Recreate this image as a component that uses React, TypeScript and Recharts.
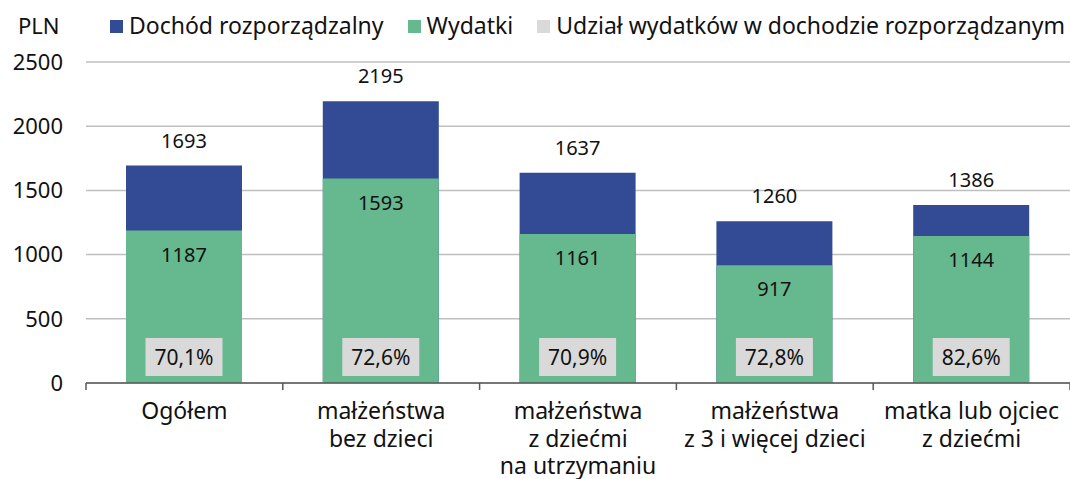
import React from "react";
import { BarChart, Bar, XAxis, YAxis, CartesianGrid, LabelList } from "recharts";

const categories = [
  "Ogółem",
  "małżeństwa\nbez dzieci",
  "małżeństwa\nz dziećmi\nna utrzymaniu",
  "małżeństwa\nz 3 i więcej dzieci",
  "matka lub ojciec\nz dziećmi",
];
const dochod = [1693, 2195, 1637, 1260, 1386];
const wydatki = [1187, 1593, 1161, 917, 1144];
const udzial = [70.1, 72.6, 70.9, 72.8, 82.6];
const yTicks = [0, 500, 1000, 1500, 2000, 2500];

const data = categories.map((name, i) => ({
  name,
  dochod: dochod[i],
  wydatki: wydatki[i],
  udzial: udzial[i],
}));

const FONT = "'Noto Sans', sans-serif";
const BLUE = "#334a94";
const GREEN = "#66b88f";
const GRAY = "#d9d9d9";
const AXIS = "#595959";

const CatTick = (props: any) => {
  const { x, y, payload, index } = props;
  const half = Number(payload?.offset) || 0;
  const lines = String(payload.value).split("\n");
  const isLast = index === categories.length - 1;
  return (
    <g transform={`translate(${x},${y})`}>
      <line x1={-half} x2={-half} y1={0} y2={7} stroke={AXIS} strokeWidth={1.5} />
      {isLast && (
        <line x1={half} x2={half} y1={0} y2={7} stroke={AXIS} strokeWidth={1.5} />
      )}
      <text textAnchor="middle" fontSize={23} fill="#111" fontFamily={FONT}>
        {lines.map((l, i) => (
          <tspan key={i} x={0} dy={i === 0 ? 36 : 27.5}>
            {l}
          </tspan>
        ))}
      </text>
    </g>
  );
};

const PctLabel = (props: any) => {
  const vb = props.viewBox || props;
  const x = Number(props.x ?? vb.x);
  const y = Number(props.y ?? vb.y);
  const w = Number(props.width ?? vb.width);
  const h = Number(props.height ?? vb.height);
  const cx = x + w / 2;
  const bottom = y + h - 7;
  const bw = 77;
  const bh = 38;
  const txt = String(Number(props.value).toFixed(1)).replace(".", ",") + "%";
  return (
    <g>
      <rect x={cx - bw / 2} y={bottom - bh} width={bw} height={bh} fill={GRAY} />
      <text
        x={cx}
        y={bottom - bh / 2}
        textAnchor="middle"
        dominantBaseline="central"
        fontSize={21}
        fill="#111"
        fontFamily={FONT}
      >
        {txt}
      </text>
    </g>
  );
};

const legendItems = [
  { label: "Dochód rozporządzalny", color: BLUE },
  { label: "Wydatki", color: GREEN },
  { label: "Udział wydatków w dochodzie rozporządzanym", color: GRAY },
];

export default function App() {
  return (
    <div
      style={{
        position: "absolute",
        left: 0,
        top: 0,
        width: 1070,
        height: 479,
        background: "#fff",
        fontFamily: FONT,
      }}
    >
      <div
        style={{
          position: "absolute",
          left: 18,
          top: 9,
          fontSize: 22,
          color: "#111",
          lineHeight: "32px",
        }}
      >
        PLN
      </div>
      <div
        style={{
          position: "absolute",
          left: 110,
          top: 9,
          display: "flex",
          alignItems: "center",
          fontSize: 23,
          color: "#111",
          lineHeight: "32px",
          whiteSpace: "nowrap",
        }}
      >
        {legendItems.map((it, i) => (
          <div
            key={i}
            style={{ display: "flex", alignItems: "center", marginRight: 24 }}
          >
            <span
              style={{
                display: "inline-block",
                width: 13,
                height: 13,
                background: it.color,
                marginRight: 6,
                marginTop: 2,
              }}
            />
            <span>{it.label}</span>
          </div>
        ))}
      </div>
      <BarChart
        width={1070}
        height={479}
        data={data}
        margin={{ top: 62, right: 0, left: 0, bottom: 0 }}
        barGap={-116}
        style={{ position: "absolute", left: 0, top: 0 }}
      >
        <CartesianGrid vertical={false} stroke="#bfbfbf" strokeWidth={1.5} />
        <XAxis
          dataKey="name"
          interval={0}
          tickLine={false}
          axisLine={{ stroke: AXIS, strokeWidth: 1.5 }}
          tickSize={0}
          tickMargin={0}
          height={96}
          tick={<CatTick />}
        />
        <YAxis
          width={86}
          domain={[0, 2500]}
          ticks={yTicks}
          axisLine={false}
          tickLine={false}
          tickSize={0}
          tickMargin={23}
          tick={{ fontSize: 22, fill: "#111", fontFamily: FONT }}
        />
        <Bar dataKey="dochod" fill={BLUE} barSize={116} isAnimationActive={false}>
          <LabelList
            dataKey="dochod"
            position="top"
            offset={18}
            fontSize={20}
            fill="#111"
            fontFamily={FONT}
          />
        </Bar>
        <Bar dataKey="wydatki" fill={GREEN} barSize={116} isAnimationActive={false}>
          <LabelList
            dataKey="wydatki"
            position="insideTop"
            offset={17}
            fontSize={20}
            fill="#111"
            fontFamily={FONT}
          />
          <LabelList dataKey="udzial" content={<PctLabel />} />
        </Bar>
      </BarChart>
    </div>
  );
}
